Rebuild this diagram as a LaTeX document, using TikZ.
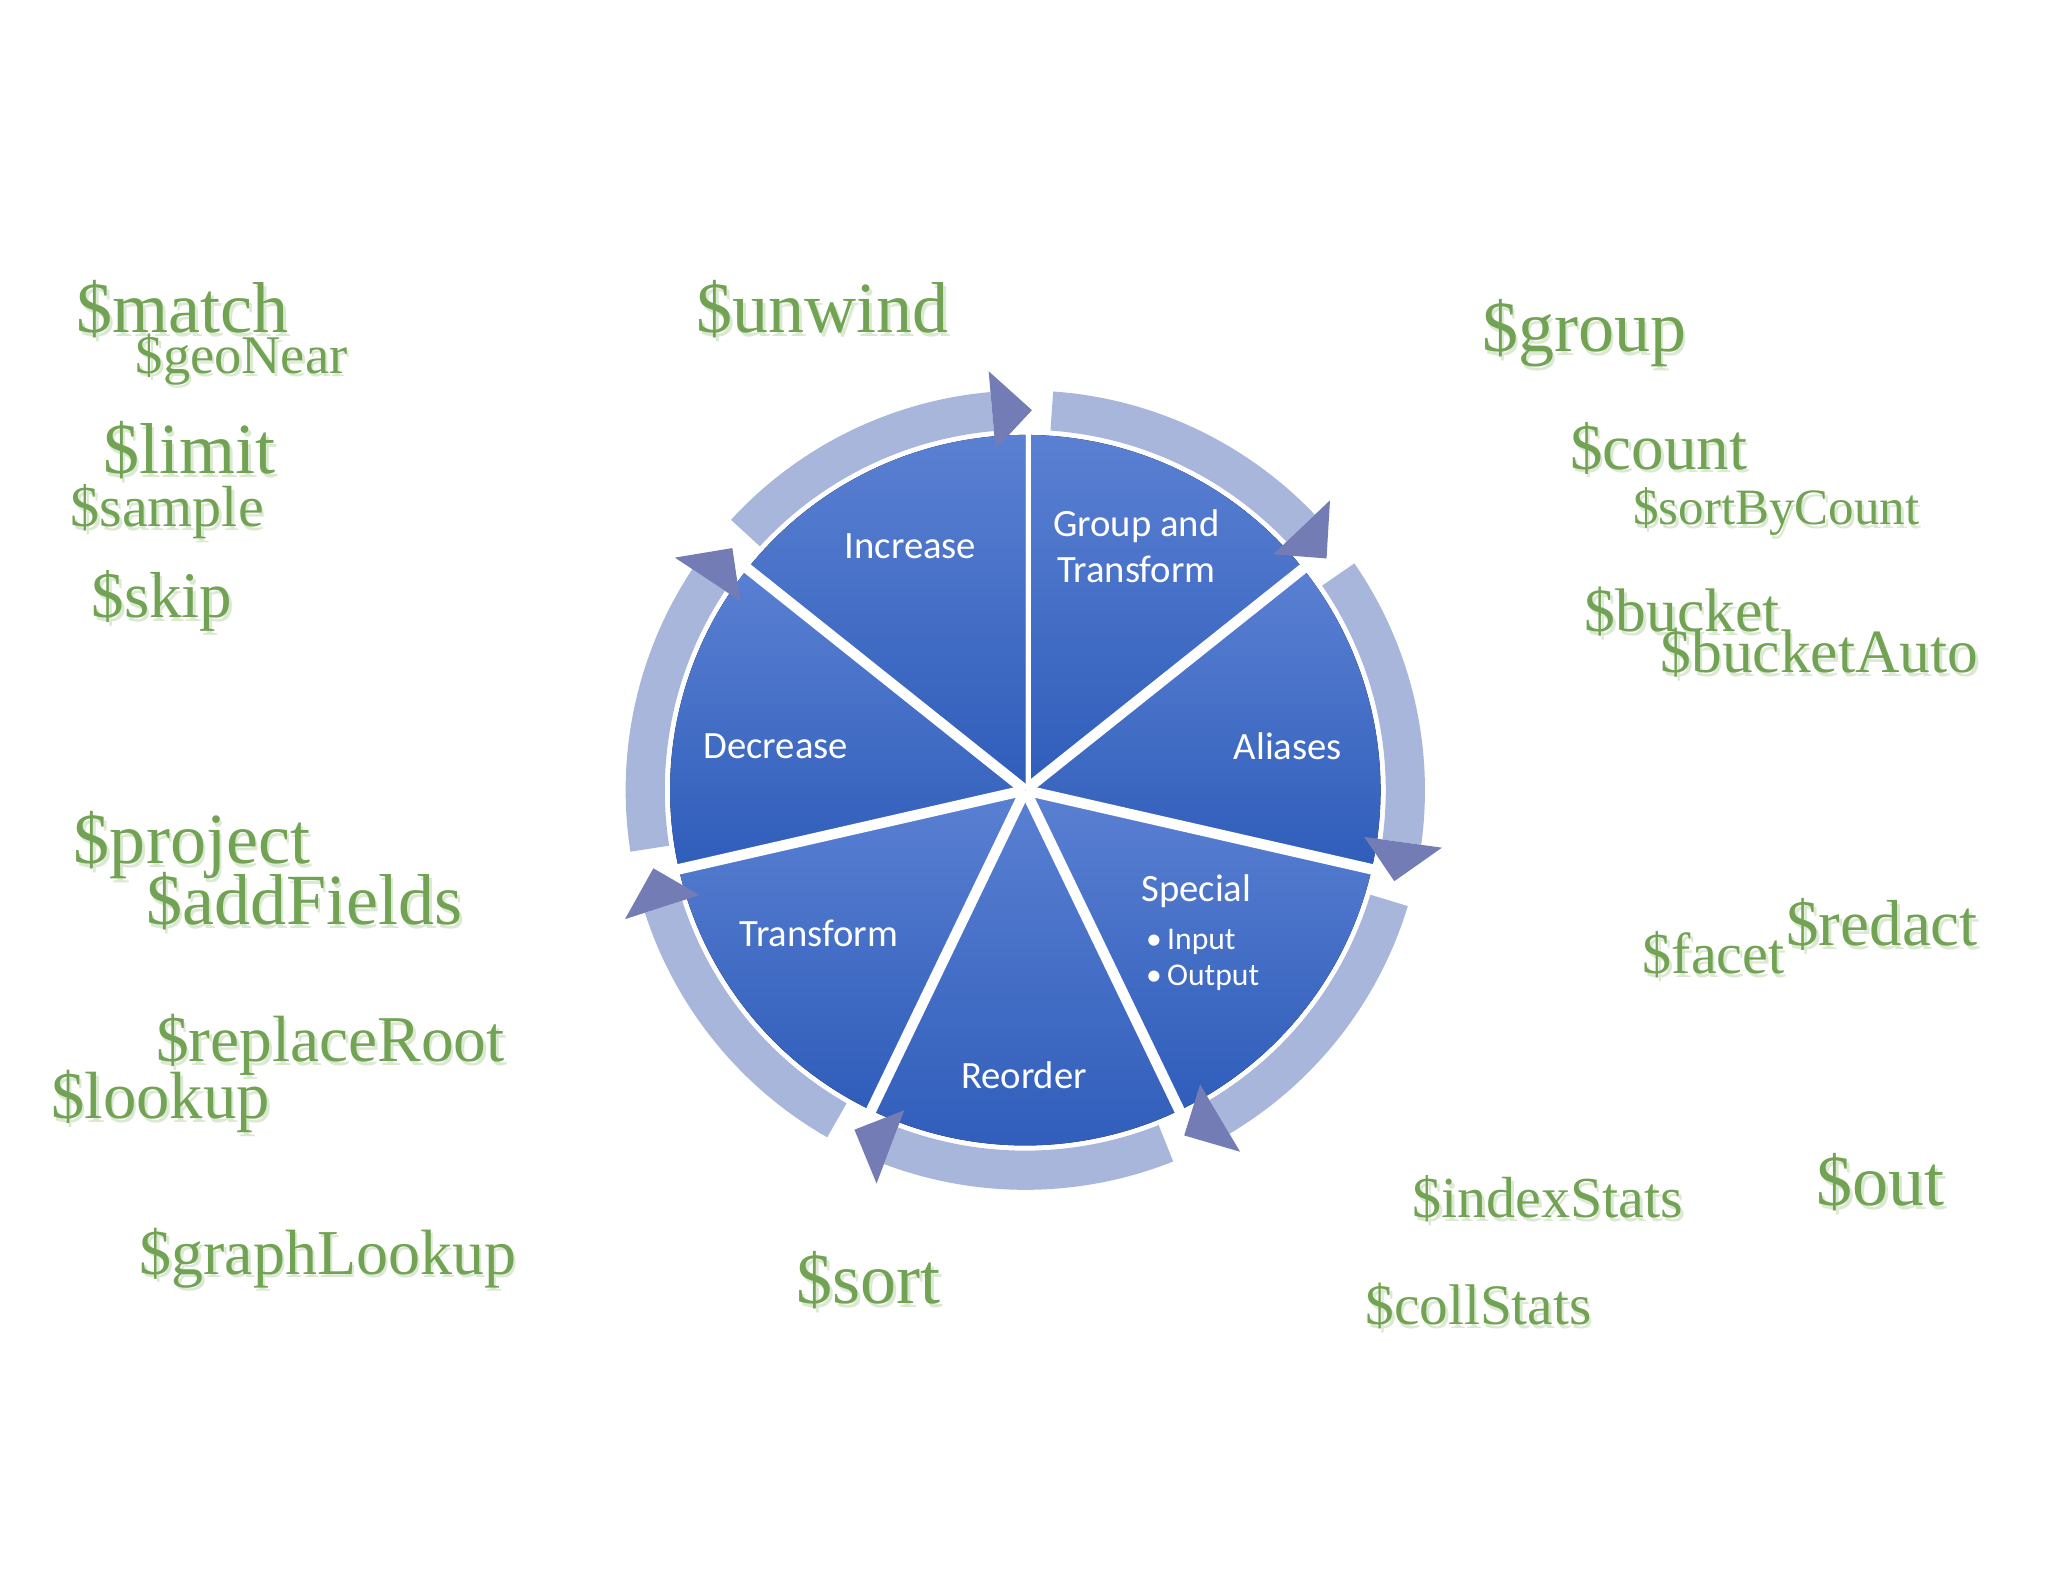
\documentclass[tikz,border=0pt]{standalone}
\usepackage{fontspec}
\setmainfont{Liberation Serif}
\newfontfamily\calfnt{Carlito}
\definecolor{gr}{HTML}{72A354}
\definecolor{grs}{HTML}{DCE9D2}
\definecolor{pieT}{HTML}{5A80D2}
\definecolor{pieB}{HTML}{2F5DBA}
\definecolor{ring}{HTML}{A9B6DC}
\tikzset{
 op/.style={text=gr,font=\fontsize{#1}{#1}\selectfont,inner sep=0},
 lab/.style={text=white,font=\calfnt\fontsize{11}{13}\selectfont,align=center,inner sep=0},
}
\begin{document}
\begin{tikzpicture}[x=0.01306cm,y=0.01306cm]
\useasboundingbox (0,0) rectangle (1568,1211);
\begin{scope}[shift={(785,1211-605)}]
\foreach \i in {0,...,6}{
 \pgfmathsetmacro\a{90-51.4286*\i}
 \pgfmathsetmacro\b{\a-51.4286}
 \fill[top color=pieT,bottom color=pieB] (0,0) -- (\a:272) arc[start angle=\a,end angle=\b,radius=272] -- cycle;
 \pgfmathsetmacro\s{\a-4}
 \pgfmathsetmacro\e{\b+5}
 \pgfmathsetmacro\t{\b-1}
 \fill[ring] (\s:276) arc[start angle=\s,end angle=\e,radius=276] -- (\e:306) arc[start angle=\e,end angle=\s,radius=306] -- cycle;
 \fill[ring!85!blue!80!black] (\e:262) -- (\e:322) -- (\t:291) -- cycle;
 \draw[white,line width=3pt] (0,0) -- (\a:280);
}
\end{scope}
\node[lab] (inc) at (697,1211-418) {Increase};
\node[lab] (grp) at (870,1211-418) {Group and\\Transform};
\node[lab] (ali) at (986,1211-571) {Aliases};
\node[lab] (spe) at (916,1211-682) {Special};
\node[lab,font=\calfnt\fontsize{9}{11}\selectfont,anchor=west] (inp) at (877,1211-721) {\textbullet\,Input};
\node[lab,font=\calfnt\fontsize{9}{11}\selectfont,anchor=west] (out) at (877,1211-749) {\textbullet\,Output};
\node[lab] (reo) at (784,1211-823) {Reorder};
\node[lab] (tra) at (627,1211-715) {Transform};
\node[lab] (dec) at (594,1211-571) {Decrease};
\foreach \x/\y/\s/\t in {
140/237/20.5/\$match, 185/275/15.5/\$geoNear, 145/345/20.5/\$limit, 128/392/16.5/\$sample,
124/460/18.5/\$skip, 630/237/20.5/\$unwind, 1213/255/20.5/\$group, 1270/343/18.5/\$count,
1360/392/14.5/\$sortByCount, 1288/468/17.5/\$bucket, 1393/500/17.5/\$bucketAuto,
147/647/20.5/\$project, 233/690/20.5/\$addFields, 253/800/18.6/\$replaceRoot,
123/843/19/\$lookup, 251/963/18.2/\$graphLookup, 665/980/20.5/\$sort,
1312/731/16.5/\$facet, 1441/708/18.5/\$redact, 1185/918/16.5/\$indexStats,
1440/905/20.5/\$out, 1132/1000/16.3/\$collStats}{
 \node[op=\s,text=grs] at (\x+2,1211-\y-3) {\t};
 \node[op=\s] at (\x,1211-\y) {\t};
}
\end{tikzpicture}
\end{document}
